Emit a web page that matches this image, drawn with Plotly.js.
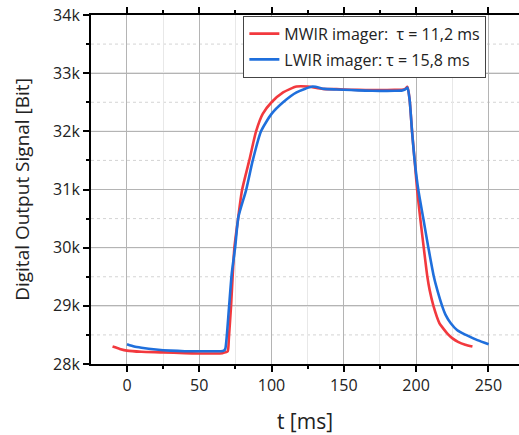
<!DOCTYPE html>
<html>
<head>
<meta charset="utf-8">
<script src="https://cdn.plot.ly/plotly-3.0.1.min.js"></script>
<style>html,body{margin:0;padding:0;overflow:hidden;background:#fff;}</style>
</head>
<body>
<div id="chart" style="width:519px;height:435px;"></div>
<script>
// MWIR imager (red) — time [ms] and digital output [Bit]
var mwirT = [-10,-5,0,10,25,40,50,60,66,68,69.7,70.5,72,74.3,76.7,79.6,84.6,89.3,93.9,100,108,117.3,125,135.4,145,155,165,175,185,190,192.5,194,195.5,197.2,199,200.7,202.9,205.3,207.8,209.4,212,216.2,218.2,222.5,225.2,229,234,239];
var mwirV = [28300,28260,28230,28210,28200,28185,28180,28180,28185,28200,28220,28450,29000,30000,30470,30990,31500,32000,32300,32500,32670,32770,32770,32730,32725,32715,32710,32710,32712,32715,32730,32765,32550,32000,31500,31000,30500,30000,29500,29270,29000,28700,28630,28500,28440,28380,28330,28300];
// LWIR imager (blue)
var lwirT = [0,5,10,20,30,40,50,60,65,67,68,69,70.6,72.5,74.8,77.1,82.4,87,92.7,100,108,117.3,128.5,136.5,145,155,165,175,185,190,192.5,194,195.5,197.2,199,201.5,205,208.5,212.3,214.7,218,220.5,224,228.5,234.5,242.4,250.2];
var lwirV = [28340,28300,28280,28250,28230,28220,28220,28220,28220,28230,28260,28470,28980,29560,30000,30530,30990,31500,32000,32300,32500,32670,32770,32730,32720,32710,32700,32695,32697,32700,32720,32755,32550,32000,31500,31000,30500,30000,29500,29270,29000,28840,28700,28580,28500,28410,28340];
var names = ["MWIR imager:\u00a0 \u03c4 = 11,2 ms", "LWIR imager: \u03c4 = 15,8 ms"];
var xTicks = [0,50,100,150,200,250];
var yTicks = [28000,29000,30000,31000,32000,33000,34000];
var yTickText = ["28k","29k","30k","31k","32k","33k","34k"];
var yMinorTicks = [28500,29500,30500,31500,32500,33500];

var FONT = "Open Sans, Noto Sans, DejaVu Sans, sans-serif";
var traces = [
  {x: mwirT, y: mwirV, name: names[0], type: "scatter", mode: "lines",
   line: {color: "#f2393e", width: 2.6, shape: "spline", smoothing: 0.6}, legendgroup: "a"},
  {x: lwirT, y: lwirV, name: names[1], type: "scatter", mode: "lines",
   line: {color: "#1f6fdc", width: 2.6, shape: "spline", smoothing: 0.6}, legendgroup: "b"}
];

// horizontal grid lines placed on the y scale at the tick values
var gridShapes = [];
yTicks.slice(1, -1).forEach(function (v) {
  gridShapes.push({type: "line", xref: "paper", yref: "y", x0: 0, x1: 1, y0: v, y1: v,
    layer: "below", line: {color: "#b4b4b4", width: 1}});
});
yMinorTicks.forEach(function (v) {
  gridShapes.push({type: "line", xref: "paper", yref: "y", x0: 0, x1: 1, y0: v, y1: v,
    layer: "below", line: {color: "#d4d4d4", width: 1, dash: "dot"}});
});

var xr = [-24.9, 271.2];
var layout = {
  width: 519, height: 435,
  margin: {l: 91, r: 0, t: 15, b: 71},
  paper_bgcolor: "#fff", plot_bgcolor: "#fff",
  font: {family: FONT, color: "#222", size: 15},
  showlegend: true,
  shapes: gridShapes,
  legend: {x: 0.356, y: 0.998, xanchor: "left", yanchor: "top",
    bgcolor: "#fff", bordercolor: "#444", borderwidth: 1,
    font: {family: FONT, size: 16, color: "#222"},
    traceorder: "grouped", tracegroupgap: 2},
  xaxis: {range: xr, tickmode: "array", tickvals: xTicks,
    ticks: "outside", ticklen: 6, tickwidth: 2, tickcolor: "#000",
    showline: true, linecolor: "#000", linewidth: 2, mirror: "allticks",
    showgrid: true, gridcolor: "#b4b4b4", gridwidth: 1, zeroline: false,
    minor: {dtick: 25, tick0: 0, ticks: "outside", ticklen: 3, tickwidth: 2, tickcolor: "#000",
      showgrid: true, gridcolor: "#e8e8e8", gridwidth: 1},
    tickfont: {size: 16, family: FONT, color: "#222"},
    title: {text: "t [ms]", font: {size: 21, family: FONT, color: "#222"}, standoff: 21}},
  yaxis: {range: [28000, 34000], tickmode: "array", tickvals: yTicks, ticktext: yTickText,
    ticks: "outside", ticklen: 6, tickwidth: 2, tickcolor: "#000",
    showline: true, linecolor: "#000", linewidth: 2, mirror: "allticks",
    showgrid: true, gridcolor: "#b4b4b4", gridwidth: 1, zeroline: false,
    minor: {dtick: 500, tick0: 28000, ticks: "outside", ticklen: 3, tickwidth: 2, tickcolor: "#000",
      showgrid: false},
    tickfont: {size: 16, family: FONT, color: "#222"},
    title: {text: "Digital Output Signal [Bit]", font: {size: 19, family: FONT, color: "#222"}, standoff: 18}}
};
Plotly.newPlot("chart", traces, layout, {displayModeBar: false, staticPlot: true});
</script>
</body>
</html>
